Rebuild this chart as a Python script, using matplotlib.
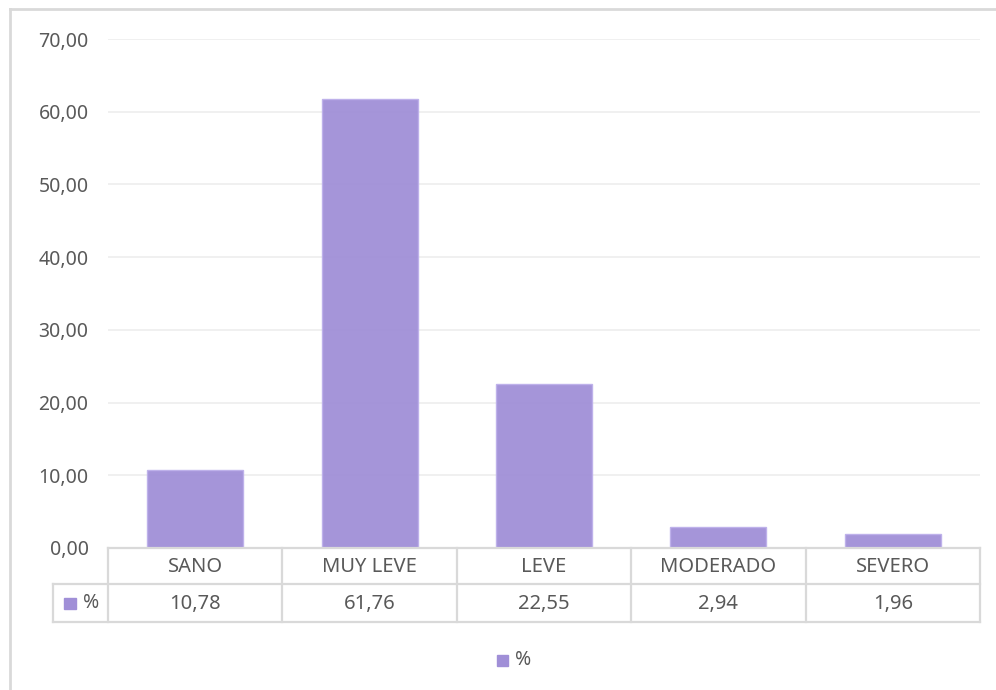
import matplotlib.pyplot as plt
from matplotlib.patches import Rectangle
from matplotlib.lines import Line2D

##-Data
categorias = ['SANO', 'MUY LEVE', 'LEVE', 'MODERADO', 'SEVERO']
porcentajes = [10.78, 61.76, 22.55, 2.94, 1.96]
serie = '%'
yticks = [0, 10, 20, 30, 40, 50, 60, 70]

##-Style
plt.rcParams['font.family'] = ['Noto Sans', 'DejaVu Sans']
txt = '#595959'
linea = '#D9D9D9'
barra = '#A08FD7'

W, H = 996, 690
fig = plt.figure(figsize=(W / 100, H / 100), dpi=100)

def fx(px):
    return px / W

def fy(py):
    return 1 - py / H

# outer chart frame
fig.add_artist(Line2D([fx(10), fx(10)], [fy(9), 0], color=linea, lw=2, transform=fig.transFigure))
fig.add_artist(Line2D([fx(10), 1], [fy(9), fy(9)], color=linea, lw=2, transform=fig.transFigure))

##-Bars
x0, x1 = 108, 980
y0, y1 = 548, 39
ax = fig.add_axes([fx(x0), fy(y0), fx(x1 - x0), fy(y1) - fy(y0)])
pos = list(range(len(categorias)))
ax.bar(pos, porcentajes, width=0.55, color=barra, alpha=0.95,
       edgecolor='#BDB0EA', linewidth=1, zorder=3)
ax.set_xlim(-0.5, len(categorias) - 0.5)
ax.set_ylim(0, 70)
ax.set_yticks(yticks)
ax.set_yticklabels([f'{v:.2f}'.replace('.', ',') for v in yticks])
ax.tick_params(axis='y', length=0, pad=14, labelsize=14, labelcolor=txt)
ax.set_xticks([])
ax.grid(axis='y', color='#EDEDED', lw=1.2, zorder=0)
for s in ax.spines.values():
    s.set_visible(False)

##-Data table
t0, t1 = 548, 622
col_w = (x1 - x0) / len(categorias)
xl = 53
tab = fig.add_axes([fx(xl), fy(t1), fx(x1 - xl), fy(t0) - fy(t1)])
tab.set_xlim(-0.5 - (x0 - xl) / col_w, len(categorias) - 0.5)
tab.set_ylim(0, 2)
tab.axis('off')
lkw = dict(color=linea, lw=1.6, clip_on=False)
xa = -0.5 - (x0 - xl) / col_w
xe = len(categorias) - 0.5
tab.plot([-0.5, xe], [2, 2], **lkw)
tab.plot([xa, xe], [1.03, 1.03], **lkw)
tab.plot([xa, xe], [0, 0], **lkw)
tab.plot([xa, xa], [0, 1.03], **lkw)
for i in range(len(categorias) + 1):
    tab.plot([i - 0.5, i - 0.5], [0, 2], **lkw)
for i, (c, v) in enumerate(zip(categorias, porcentajes)):
    tab.text(i, 1.5, c, ha='center', va='center', fontsize=14.5, color=txt)
    tab.text(i, 0.5, f'{v:.2f}'.replace('.', ','), ha='center', va='center', fontsize=14.5, color=txt)
# legend key inside the table
kx = xa + 11 / col_w
tab.add_patch(Rectangle((kx, 0.34), 12 / col_w, 0.32, color=barra, clip_on=False))
tab.text(kx + 19 / col_w, 0.5, serie, ha='left', va='center', fontsize=14, color=txt)

##-Legend
fig.add_artist(Rectangle((fx(497), fy(666)), fx(11), fy(655) - fy(666), color=barra,
                         transform=fig.transFigure))
fig.text(fx(515), fy(660), serie, ha='left', va='center', fontsize=14, color=txt)

fig.savefig('out.png', dpi=100)
